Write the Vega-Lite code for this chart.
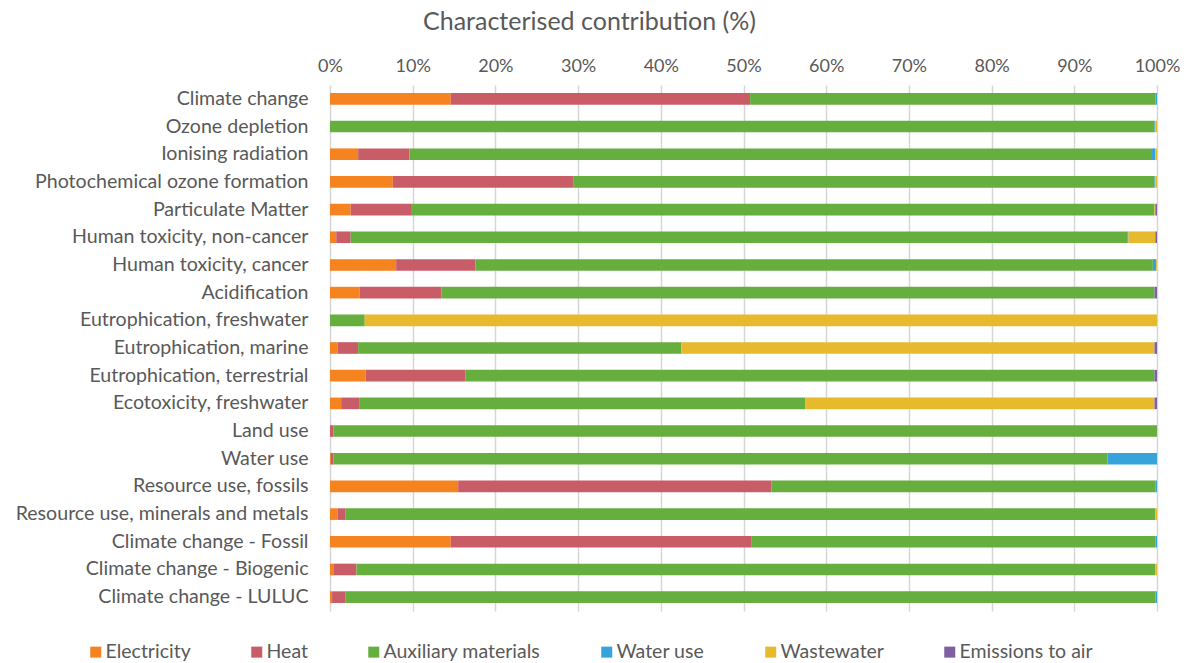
{
  "$schema": "https://vega.github.io/schema/vega-lite/v6.json",
  "width": 827,
  "height": 526,
  "autosize": {"type": "none"},
  "padding": {"left": 330, "top": 85, "right": 32, "bottom": 52},
  "background": "white",
  "title": {
    "text": "Characterised contribution (%)",
    "anchor": "middle",
    "frame": "group",
    "dx": -154,
    "offset": 22,
    "font": "Lato",
    "fontSize": 25,
    "fontWeight": "normal",
    "color": "#595959"
  },
  "data": {
    "values": [
      {"category": "Climate change", "source": "Electricity", "value": 14.6},
      {"category": "Climate change", "source": "Heat", "value": 36.2},
      {"category": "Climate change", "source": "Auxiliary materials", "value": 49.0},
      {"category": "Climate change", "source": "Water use", "value": 0.2},
      {"category": "Climate change", "source": "Wastewater", "value": 0},
      {"category": "Climate change", "source": "Emissions to air", "value": 0},

      {"category": "Ozone depletion", "source": "Electricity", "value": 0},
      {"category": "Ozone depletion", "source": "Heat", "value": 0},
      {"category": "Ozone depletion", "source": "Auxiliary materials", "value": 99.7},
      {"category": "Ozone depletion", "source": "Water use", "value": 0.1},
      {"category": "Ozone depletion", "source": "Wastewater", "value": 0.2},
      {"category": "Ozone depletion", "source": "Emissions to air", "value": 0},

      {"category": "Ionising radiation", "source": "Electricity", "value": 3.4},
      {"category": "Ionising radiation", "source": "Heat", "value": 6.2},
      {"category": "Ionising radiation", "source": "Auxiliary materials", "value": 89.8},
      {"category": "Ionising radiation", "source": "Water use", "value": 0.4},
      {"category": "Ionising radiation", "source": "Wastewater", "value": 0.2},
      {"category": "Ionising radiation", "source": "Emissions to air", "value": 0},

      {"category": "Photochemical ozone formation", "source": "Electricity", "value": 7.6},
      {"category": "Photochemical ozone formation", "source": "Heat", "value": 21.8},
      {"category": "Photochemical ozone formation", "source": "Auxiliary materials", "value": 70.3},
      {"category": "Photochemical ozone formation", "source": "Water use", "value": 0.1},
      {"category": "Photochemical ozone formation", "source": "Wastewater", "value": 0.2},
      {"category": "Photochemical ozone formation", "source": "Emissions to air", "value": 0},

      {"category": "Particulate Matter", "source": "Electricity", "value": 2.5},
      {"category": "Particulate Matter", "source": "Heat", "value": 7.4},
      {"category": "Particulate Matter", "source": "Auxiliary materials", "value": 89.8},
      {"category": "Particulate Matter", "source": "Water use", "value": 0},
      {"category": "Particulate Matter", "source": "Wastewater", "value": 0.1},
      {"category": "Particulate Matter", "source": "Emissions to air", "value": 0.2},

      {"category": "Human toxicity, non-cancer", "source": "Electricity", "value": 0.75},
      {"category": "Human toxicity, non-cancer", "source": "Heat", "value": 1.75},
      {"category": "Human toxicity, non-cancer", "source": "Auxiliary materials", "value": 93.9},
      {"category": "Human toxicity, non-cancer", "source": "Water use", "value": 0.15},
      {"category": "Human toxicity, non-cancer", "source": "Wastewater", "value": 3.25},
      {"category": "Human toxicity, non-cancer", "source": "Emissions to air", "value": 0.2},

      {"category": "Human toxicity, cancer", "source": "Electricity", "value": 8.0},
      {"category": "Human toxicity, cancer", "source": "Heat", "value": 9.6},
      {"category": "Human toxicity, cancer", "source": "Auxiliary materials", "value": 81.9},
      {"category": "Human toxicity, cancer", "source": "Water use", "value": 0.4},
      {"category": "Human toxicity, cancer", "source": "Wastewater", "value": 0.1},
      {"category": "Human toxicity, cancer", "source": "Emissions to air", "value": 0},

      {"category": "Acidification", "source": "Electricity", "value": 3.6},
      {"category": "Acidification", "source": "Heat", "value": 9.9},
      {"category": "Acidification", "source": "Auxiliary materials", "value": 86.2},
      {"category": "Acidification", "source": "Water use", "value": 0},
      {"category": "Acidification", "source": "Wastewater", "value": 0},
      {"category": "Acidification", "source": "Emissions to air", "value": 0.3},

      {"category": "Eutrophication, freshwater", "source": "Electricity", "value": 0},
      {"category": "Eutrophication, freshwater", "source": "Heat", "value": 0},
      {"category": "Eutrophication, freshwater", "source": "Auxiliary materials", "value": 4.2},
      {"category": "Eutrophication, freshwater", "source": "Water use", "value": 0},
      {"category": "Eutrophication, freshwater", "source": "Wastewater", "value": 95.8},
      {"category": "Eutrophication, freshwater", "source": "Emissions to air", "value": 0},

      {"category": "Eutrophication, marine", "source": "Electricity", "value": 0.9},
      {"category": "Eutrophication, marine", "source": "Heat", "value": 2.5},
      {"category": "Eutrophication, marine", "source": "Auxiliary materials", "value": 39.1},
      {"category": "Eutrophication, marine", "source": "Water use", "value": 0},
      {"category": "Eutrophication, marine", "source": "Wastewater", "value": 57.2},
      {"category": "Eutrophication, marine", "source": "Emissions to air", "value": 0.3},

      {"category": "Eutrophication, terrestrial", "source": "Electricity", "value": 4.3},
      {"category": "Eutrophication, terrestrial", "source": "Heat", "value": 12.1},
      {"category": "Eutrophication, terrestrial", "source": "Auxiliary materials", "value": 83.3},
      {"category": "Eutrophication, terrestrial", "source": "Water use", "value": 0},
      {"category": "Eutrophication, terrestrial", "source": "Wastewater", "value": 0},
      {"category": "Eutrophication, terrestrial", "source": "Emissions to air", "value": 0.3},

      {"category": "Ecotoxicity, freshwater", "source": "Electricity", "value": 1.35},
      {"category": "Ecotoxicity, freshwater", "source": "Heat", "value": 2.25},
      {"category": "Ecotoxicity, freshwater", "source": "Auxiliary materials", "value": 53.9},
      {"category": "Ecotoxicity, freshwater", "source": "Water use", "value": 0},
      {"category": "Ecotoxicity, freshwater", "source": "Wastewater", "value": 42.2},
      {"category": "Ecotoxicity, freshwater", "source": "Emissions to air", "value": 0.3},

      {"category": "Land use", "source": "Electricity", "value": 0},
      {"category": "Land use", "source": "Heat", "value": 0.4},
      {"category": "Land use", "source": "Auxiliary materials", "value": 99.6},
      {"category": "Land use", "source": "Water use", "value": 0},
      {"category": "Land use", "source": "Wastewater", "value": 0},
      {"category": "Land use", "source": "Emissions to air", "value": 0},

      {"category": "Water use", "source": "Electricity", "value": 0.1},
      {"category": "Water use", "source": "Heat", "value": 0.3},
      {"category": "Water use", "source": "Auxiliary materials", "value": 93.6},
      {"category": "Water use", "source": "Water use", "value": 6.0},
      {"category": "Water use", "source": "Wastewater", "value": 0},
      {"category": "Water use", "source": "Emissions to air", "value": 0},

      {"category": "Resource use, fossils", "source": "Electricity", "value": 15.5},
      {"category": "Resource use, fossils", "source": "Heat", "value": 37.9},
      {"category": "Resource use, fossils", "source": "Auxiliary materials", "value": 46.4},
      {"category": "Resource use, fossils", "source": "Water use", "value": 0.2},
      {"category": "Resource use, fossils", "source": "Wastewater", "value": 0},
      {"category": "Resource use, fossils", "source": "Emissions to air", "value": 0},

      {"category": "Resource use, minerals and metals", "source": "Electricity", "value": 0.9},
      {"category": "Resource use, minerals and metals", "source": "Heat", "value": 1.0},
      {"category": "Resource use, minerals and metals", "source": "Auxiliary materials", "value": 97.9},
      {"category": "Resource use, minerals and metals", "source": "Water use", "value": 0},
      {"category": "Resource use, minerals and metals", "source": "Wastewater", "value": 0.2},
      {"category": "Resource use, minerals and metals", "source": "Emissions to air", "value": 0},

      {"category": "Climate change - Fossil", "source": "Electricity", "value": 14.6},
      {"category": "Climate change - Fossil", "source": "Heat", "value": 36.4},
      {"category": "Climate change - Fossil", "source": "Auxiliary materials", "value": 48.8},
      {"category": "Climate change - Fossil", "source": "Water use", "value": 0.2},
      {"category": "Climate change - Fossil", "source": "Wastewater", "value": 0},
      {"category": "Climate change - Fossil", "source": "Emissions to air", "value": 0},

      {"category": "Climate change - Biogenic", "source": "Electricity", "value": 0.4},
      {"category": "Climate change - Biogenic", "source": "Heat", "value": 2.8},
      {"category": "Climate change - Biogenic", "source": "Auxiliary materials", "value": 96.6},
      {"category": "Climate change - Biogenic", "source": "Water use", "value": 0},
      {"category": "Climate change - Biogenic", "source": "Wastewater", "value": 0.2},
      {"category": "Climate change - Biogenic", "source": "Emissions to air", "value": 0},

      {"category": "Climate change - LULUC", "source": "Electricity", "value": 0.25},
      {"category": "Climate change - LULUC", "source": "Heat", "value": 1.65},
      {"category": "Climate change - LULUC", "source": "Auxiliary materials", "value": 97.9},
      {"category": "Climate change - LULUC", "source": "Water use", "value": 0.2},
      {"category": "Climate change - LULUC", "source": "Wastewater", "value": 0},
      {"category": "Climate change - LULUC", "source": "Emissions to air", "value": 0}
    ]
  },
  "transform": [
    {"calculate": "indexof(['Electricity', 'Heat', 'Auxiliary materials', 'Water use', 'Wastewater', 'Emissions to air'], datum.source)", "as": "stackOrder"}
  ],
  "mark": {"type": "bar"},
  "encoding": {
    "y": {
      "field": "category",
      "type": "nominal",
      "sort": null,
      "scale": {"paddingInner": 0.58, "paddingOuter": 0.29},
      "axis": {
        "title": null,
        "domain": false,
        "ticks": false,
        "tickSize": 0,
        "labelPadding": 22,
        "labelFont": "Lato",
        "labelFontSize": 19.6,
        "labelLimit": 400,
        "labelColor": "#595959",
        "grid": false
      }
    },
    "x": {
      "field": "value",
      "type": "quantitative",
      "stack": "zero",
      "scale": {"domain": [0, 100], "nice": false, "zero": true},
      "axis": {
        "orient": "top",
        "title": null,
        "values": [0, 10, 20, 30, 40, 50, 60, 70, 80, 90, 100],
        "labelExpr": "datum.value + '%'",
        "domain": false,
        "ticks": false,
        "tickSize": 0,
        "labelPadding": 10,
        "labelFont": "Lato",
        "labelFontSize": 18,
        "labelColor": "#595959",
        "labelFlush": false,
        "grid": true,
        "gridColor": "#D6D6D6",
        "gridWidth": 1.5
      }
    },
    "order": {"field": "stackOrder", "type": "quantitative", "sort": "ascending"},
    "color": {
      "field": "source",
      "type": "nominal",
      "sort": ["Electricity", "Heat", "Auxiliary materials", "Water use", "Wastewater", "Emissions to air"],
      "scale": {
        "domain": ["Electricity", "Heat", "Auxiliary materials", "Water use", "Wastewater", "Emissions to air"],
        "range": ["#F5831F", "#C85C67", "#66AE3E", "#36A3DA", "#E6BA2C", "#7E5FA1"]
      },
      "legend": {
        "title": null,
        "orient": "none",
        "legendX": -244,
        "legendY": 557,
        "direction": "horizontal",
        "columns": 6,
        "symbolType": "square",
        "symbolSize": 121,
        "symbolStrokeWidth": 0,
        "columnPadding": 56,
        "labelOffset": 0,
        "labelFont": "Lato",
        "labelFontSize": 19.5,
        "labelColor": "#595959",
        "labelLimit": 400
      }
    }
  },
  "config": {
    "view": {"stroke": null},
    "axis": {"labelFont": "Lato"}
  }
}
